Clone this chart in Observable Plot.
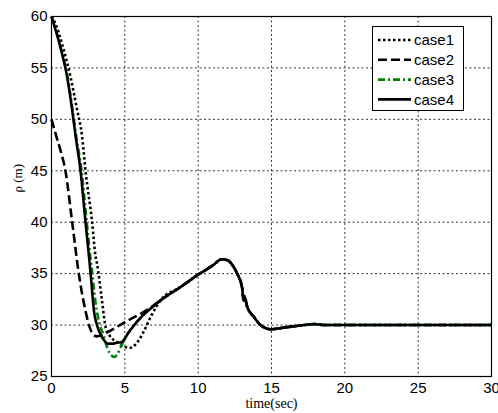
<!DOCTYPE html>
<html><head><meta charset="utf-8">
<script src="https://cdn.jsdelivr.net/npm/d3@7"></script>
<script src="https://cdn.jsdelivr.net/npm/@observablehq/plot@0.6"></script>
<style>body{margin:0;background:#fff} #chart{position:relative;width:498px;height:413px}</style>
</head><body><div id="chart"></div>
<script>
const xTicks = [0, 5, 10, 15, 20, 25, 30];
const yTicks = [25, 30, 35, 40, 45, 50, 55, 60];
const caseNames = ["case1", "case2", "case3", "case4"];
const caseColors = ["#000000", "#000000", "#008000", "#000000"];
const caseDash = ["2.5,2.5", "9,4", "7,3,2,3", null];
const xLabel = "time(sec)";
const yLabel = "ρ (m)";

// shared tail where all four cases coincide
const tailT = [7.43, 8.8, 10, 11, 11.6, 12.0, 12.4, 12.66, 13.0, 13.1, 13.15, 13.34, 13.8, 14.25, 14.93, 16.07, 17.2, 17.9, 18.6, 30];
const tailR = [32.4, 33.7, 34.9, 35.8, 36.4, 36.3, 35.7, 35.0, 33.6, 32.4, 32.8, 31.8, 30.8, 30.0, 29.6, 29.8, 30.0, 30.1, 30.0, 30.0];

const case1T = [0, 0.27, 0.84, 1.3, 1.75, 2.09, 2.32, 2.77, 3.0, 3.1, 3.45, 3.7, 4.0, 4.5, 4.93, 5.4, 5.84, 6.3, 6.8];
const case1R = [60, 59.3, 56.7, 54.1, 50.9, 48.3, 45, 40, 36.7, 36.0, 32.3, 29.7, 28.9, 28.3, 27.9, 27.8, 28.3, 29.4, 30.9];

const case2T = [0, 0.3, 0.61, 0.95, 1.41, 1.86, 2.3, 2.6, 2.9, 3.1, 3.8, 4.9, 6.07, 6.75];
const case2R = [50, 48.5, 47, 45, 40, 35, 31.5, 29.8, 29.0, 28.9, 29.3, 30.2, 31.1, 31.7];

const case3T = [0, 0.61, 1.07, 1.41, 1.7, 2.05, 2.4, 2.62, 2.77, 3.0, 3.3, 3.56, 3.8, 4.13, 4.3, 4.5, 4.7, 5.04, 5.5, 6.07, 6.75];
const case3R = [60, 57.1, 54.3, 51.2, 48.2, 45, 40, 37, 35.2, 32.2, 30.0, 29.0, 27.8, 27.0, 26.9, 27.2, 27.8, 28.8, 29.8, 30.7, 31.6];

const case4T = [0, 0.3, 0.61, 1.07, 1.41, 1.64, 1.98, 2.32, 2.54, 2.7, 2.9, 3.1, 3.34, 3.6, 3.8, 4.25, 4.5, 4.7, 4.9, 5.27, 6.07, 6.75];
const case4R = [60, 58.6, 57, 54.1, 50.9, 48.4, 45, 40, 36.9, 34.5, 31.3, 30.0, 29.1, 28.5, 28.2, 28.2, 28.3, 28.3, 28.5, 29.3, 30.7, 31.6];

const caseT = [case1T, case2T, case3T, case4T];
const caseR = [case1R, case2R, case3R, case4R];

const series = caseNames.map((name, i) => {
  const ts = caseT[i].concat(tailT);
  const rs = caseR[i].concat(tailR);
  return ts.map((t, j) => ({t, r: rs[j], name}));
});

const chart = Plot.plot({
  width: 498, height: 413,
  marginLeft: 51, marginRight: 7, marginTop: 16, marginBottom: 37,
  x: {domain: [0, 30]},
  y: {domain: [25, 60]},
  style: {fontFamily: "'Liberation Sans', Arial, sans-serif", fontSize: "15px", color: "#000", background: "#fff"},
  marks: [
    Plot.gridX(xTicks, {stroke: "#000", strokeOpacity: 1, strokeWidth: 0.8, strokeDasharray: "2,2.5"}),
    Plot.gridY(yTicks, {stroke: "#000", strokeOpacity: 1, strokeWidth: 0.8, strokeDasharray: "2,2.5"}),
    Plot.axisX({ticks: xTicks, tickSize: 0, tickPadding: 6, label: null, fontSize: 15}),
    Plot.axisY({ticks: yTicks, tickSize: 0, tickPadding: 4, label: null, fontSize: 15}),
    ...series.map((rows, i) => Plot.line(rows, {
      x: "t", y: "r", stroke: caseColors[i], strokeWidth: 2.6,
      strokeDasharray: caseDash[i] || undefined, curve: "monotone-x", strokeLinecap: "butt"
    })),
    Plot.frame({stroke: "#000", strokeWidth: 1.2}),
    Plot.text([xLabel], {frameAnchor: "bottom", dy: 31.5, fontFamily: "'Liberation Serif', 'Times New Roman', serif", fontSize: 14}),
    Plot.text([yLabel], {frameAnchor: "left", dx: -34, dy: -4, rotate: -90, fontFamily: "'Liberation Serif', 'Times New Roman', serif", fontSize: 13})
  ]
});

// legend
const svg = d3.select(chart);
const lg = svg.append("g").attr("class", "legend").attr("text-anchor", "start");
lg.append("rect").attr("x", 372.5).attr("y", 26.5).attr("width", 91).attr("height", 84)
  .attr("fill", "#fff").attr("stroke", "#000").attr("stroke-width", 1);
caseNames.forEach((name, i) => {
  const cy = 40 + i * 19.8;
  lg.append("line").attr("x1", 378).attr("x2", 411).attr("y1", cy).attr("y2", cy)
    .attr("stroke", caseColors[i]).attr("stroke-width", 2.6)
    .attr("stroke-dasharray", caseDash[i]);
  lg.append("text").attr("x", 414).attr("y", cy + 5.3).text(name)
    .attr("text-anchor", "start")
    .attr("font-family", "'Liberation Sans', Arial, sans-serif").attr("font-size", 15).attr("fill", "#000");
});

document.getElementById("chart").appendChild(chart);
</script>
</body></html>
